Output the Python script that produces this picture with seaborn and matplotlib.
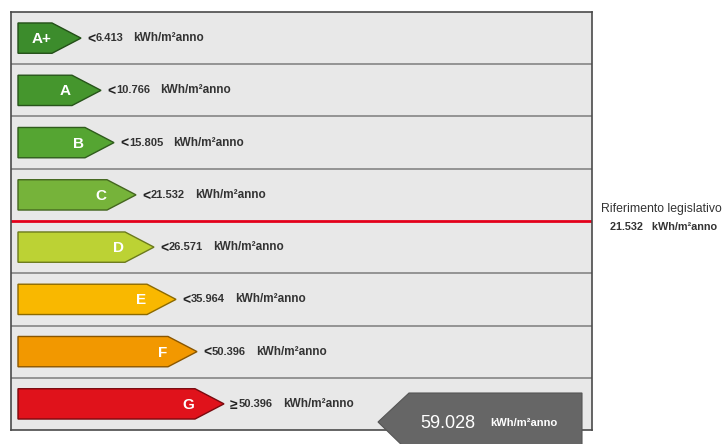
import matplotlib
matplotlib.use('Agg')
import matplotlib.pyplot as plt
import seaborn as sns
from matplotlib.patches import Polygon

# energy classes and their upper limits (kWh/m²anno)
classes = ['A+', 'A', 'B', 'C', 'D', 'E', 'F', 'G']
limits = [6.413, 10.766, 15.805, 21.532, 26.571, 35.964, 50.396, 50.396]
signs = ['<', '<', '<', '<', '<', '<', '<', '≥']
bar_len = [34, 54, 67, 89, 107, 129, 150, 177]
colors = ['#3c8c2c', '#45962d', '#55a532', '#76b33a',
          '#bcd234', '#f9b800', '#f29800', '#e0121b']
edges = ['#234f18', '#27541a', '#2f5c1c', '#44661f',
         '#6b7a1c', '#8c6a00', '#8a5600', '#7a0a0f']
unit = 'kWh/m²anno'
ref_label = 'Riferimento legislativo'
ref_value = 21.532
building_value = 59.028

sns.set_style('white')
plt.rcParams['font.family'] = ['Liberation Sans', 'DejaVu Sans']

W, H = 727, 444
fig = plt.figure(figsize=(W / 100, H / 100), dpi=100)
fig.patch.set_facecolor('white')

# panel with the class arrows
ax = fig.add_axes([11 / W, 14 / H, 581 / W, 418 / H])
sns.barplot(x=bar_len, y=classes, hue=classes, palette=colors, legend=False,
            width=0.58, saturation=1, orient='h', ax=ax)
ax.set_facecolor('#e8e8e8')
ax.set_xlim(-7, 574)
ax.set_ylim(7.5, -0.5)
ax.set(xlabel='', ylabel='', xticks=[], yticks=[])
for s in ax.spines.values():
    s.set_color('#4a4a4a')
    s.set_linewidth(1.2)

tip = 29
for p in list(ax.patches):
    x1 = p.get_x() + p.get_width()
    y0 = p.get_y()
    y1 = y0 + p.get_height()
    yc = (y0 + y1) / 2
    i = int(round(yc))
    p.set_visible(False)
    ax.add_patch(Polygon([(0, y0), (x1, y0), (x1 + tip, yc), (x1, y1), (0, y1)],
                         closed=True, facecolor=colors[i], edgecolor=edges[i],
                         lw=1.0, zorder=3))
    ax.text(x1 - 1, yc + 0.02, classes[i], ha='right', va='center', color='white',
            fontsize=11, fontweight='bold', zorder=4)
    ax.text(x1 + tip + 6, yc + 0.03, signs[i], ha='left', va='center', color='#222222',
            fontsize=10, fontweight='bold', zorder=4)
    num = ax.text(x1 + tip + 15, yc, f'{limits[i]:.3f}', ha='left', va='center',
                  color='#333333', fontsize=8, fontweight='bold', zorder=4)
    ax.annotate(unit, xy=(1, 0.5), xycoords=num, xytext=(7, 0),
                textcoords='offset points', ha='left', va='center',
                color='#333333', fontsize=8.5, fontweight='bold', zorder=4)

ref_idx = classes.index('C')
for k in range(len(classes) - 1):
    if k == ref_idx:
        ax.axhline(k + 0.5, color='#e3001b', lw=2, zorder=2)
    else:
        ax.axhline(k + 0.5, color='#858585', lw=1.2, zorder=2)

# overlay for building value pointer and reference note
ov = fig.add_axes([0, 0, 1, 1])
ov.set_xlim(0, W)
ov.set_ylim(H, 0)
ov.axis('off')
ov.patch.set_alpha(0)

ov.add_patch(Polygon([(378, 422), (409, 393), (582, 393), (582, 452), (409, 452)],
                     closed=True, facecolor='#666666', edgecolor='#555555', lw=0.8))
ov.text(420, 423, f'{building_value:.3f}', ha='left', va='center', color='white',
        fontsize=13)
ov.text(490, 423, unit, ha='left', va='center', color='white', fontsize=8,
        fontweight='bold')

ov.text(661, 209, ref_label, ha='center', va='center', color='#333333', fontsize=8.8)
ov.text(664, 227, f'{ref_value:.3f}   {unit}', ha='center', va='center',
        color='#333333', fontsize=7.8, fontweight='bold')

fig.savefig('out.png', dpi=100)
